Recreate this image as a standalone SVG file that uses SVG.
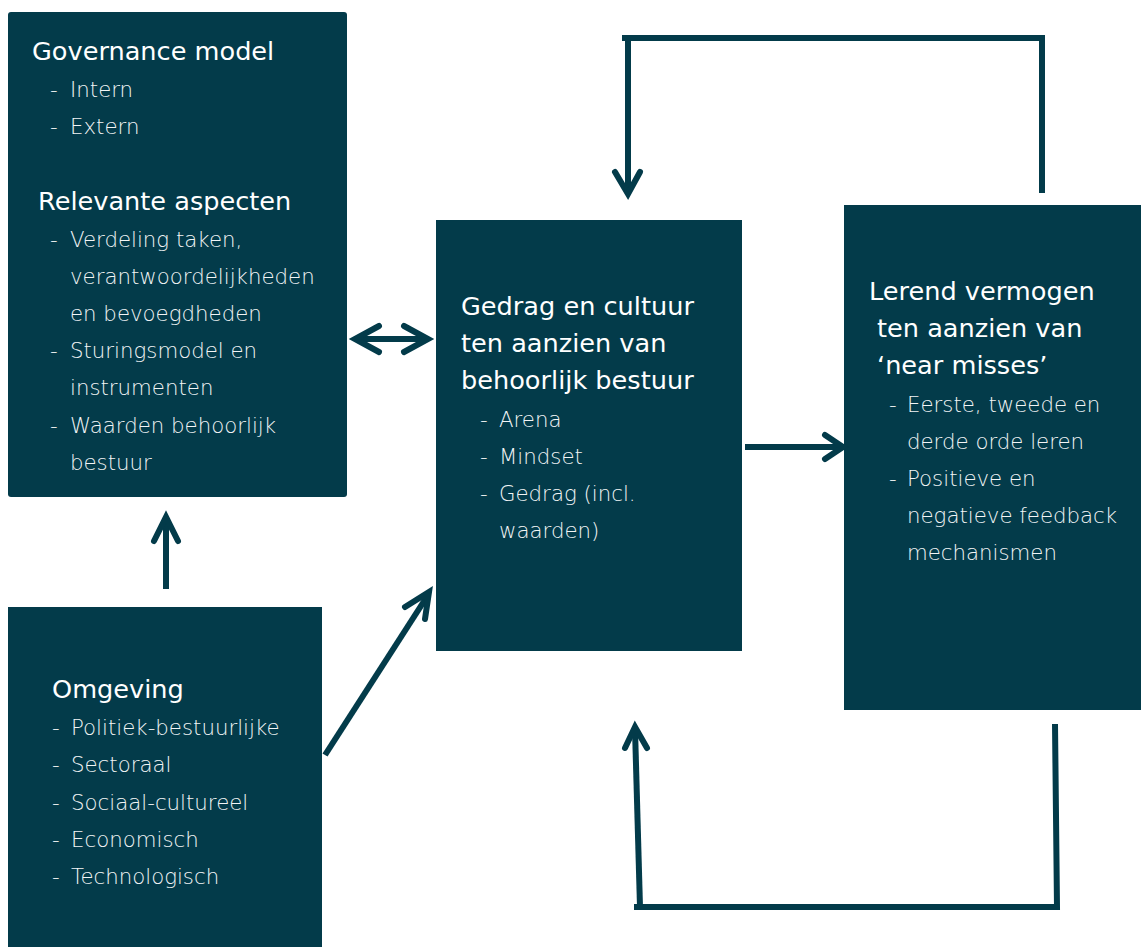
<svg xmlns="http://www.w3.org/2000/svg" width="1141" height="947" viewBox="0 0 1141 947">
<style>
.box{fill:#033b4a}
.t{font-family:"DejaVu Sans","Open Sans",sans-serif}
.h{font-size:25.6px;fill:#ffffff}
.b{font-size:21.3px;font-weight:200;fill:#f2f5f6}
.ln{fill:none;stroke:#033b4a;stroke-width:6}
.hd{fill:none;stroke:#033b4a;stroke-width:6;stroke-linecap:round;stroke-linejoin:miter}
</style>
<rect width="1141" height="947" fill="#ffffff"/>
<g id="governance">
<rect class="box" x="8" y="12" width="339" height="485" rx="3"/>
<text class="t h" x="32" y="60">Governance model</text>
<text class="t b" x="50" y="97">-</text><text class="t b" x="70" y="97">Intern</text>
<text class="t b" x="50" y="134">-</text><text class="t b" x="70" y="134">Extern</text>
<text class="t h" x="38" y="210">Relevante aspecten</text>
<text class="t b" x="50" y="247">-</text><text class="t b" x="70" y="247">Verdeling taken,</text>
<text class="t b" x="70" y="284">verantwoordelijkheden</text>
<text class="t b" x="70" y="321">en bevoegdheden</text>
<text class="t b" x="50" y="358">-</text><text class="t b" x="70" y="358">Sturingsmodel en</text>
<text class="t b" x="70" y="395">instrumenten</text>
<text class="t b" x="50" y="433">-</text><text class="t b" x="70" y="433">Waarden behoorlijk</text>
<text class="t b" x="70" y="470">bestuur</text>
</g>
<g id="gedrag">
<rect class="box" x="436" y="220" width="306" height="431"/>
<text class="t h" x="461" y="315">Gedrag en cultuur</text>
<text class="t h" x="461" y="352">ten aanzien van</text>
<text class="t h" x="461" y="389">behoorlijk bestuur</text>
<text class="t b" x="480" y="427">-</text><text class="t b" x="499" y="427">Arena</text>
<text class="t b" x="480" y="464">-</text><text class="t b" x="499" y="464">Mindset</text>
<text class="t b" x="480" y="501">-</text><text class="t b" x="499" y="501">Gedrag (incl.</text>
<text class="t b" x="499" y="538">waarden)</text>
</g>
<g id="lerend">
<rect class="box" x="844" y="205" width="297" height="505"/>
<text class="t h" x="869" y="300">Lerend vermogen</text>
<text class="t h" x="877" y="337">ten aanzien van</text>
<text class="t h" x="877" y="374">‘near misses’</text>
<text class="t b" x="889" y="412">-</text><text class="t b" x="907" y="412">Eerste, tweede en</text>
<text class="t b" x="907" y="449">derde orde leren</text>
<text class="t b" x="889" y="486">-</text><text class="t b" x="907" y="486">Positieve en</text>
<text class="t b" x="907" y="523">negatieve feedback</text>
<text class="t b" x="907" y="560">mechanismen</text>
</g>
<g id="omgeving">
<rect class="box" x="8" y="607" width="314" height="340"/>
<text class="t h" x="52" y="698">Omgeving</text>
<text class="t b" x="52" y="735">-</text><text class="t b" x="71" y="735">Politiek-bestuurlijke</text>
<text class="t b" x="52" y="772">-</text><text class="t b" x="71" y="772">Sectoraal</text>
<text class="t b" x="52" y="810">-</text><text class="t b" x="71" y="810">Sociaal-cultureel</text>
<text class="t b" x="52" y="847">-</text><text class="t b" x="71" y="847">Economisch</text>
<text class="t b" x="52" y="884">-</text><text class="t b" x="71" y="884">Technologisch</text>
</g>
<g id="connectors">
<line class="ln" x1="356" y1="339" x2="427" y2="339"/>
<polyline class="hd" points="379,326 355,339 379,352"/>
<polyline class="hd" points="404,326 428,339 404,352"/>
<polyline class="ln" points="1042,193 1042,38 622,38"/>
<line class="ln" x1="628" y1="38" x2="628" y2="192"/>
<polyline class="hd" points="615,172 628,194 640,172"/>
<polyline class="ln" points="1055,724 1057,907 634,907"/>
<line class="ln" x1="640" y1="907" x2="635" y2="729"/>
<polyline class="hd" points="625,748 635,727 647,748"/>
<line class="ln" x1="745" y1="447" x2="841" y2="447"/>
<polyline class="hd" points="825,435 843,447 825,459"/>
<line class="ln" x1="166" y1="589" x2="166" y2="519"/>
<polyline class="hd" points="154,541 166,517 178,541"/>
<line class="ln" x1="325" y1="755" x2="428" y2="595"/>
<polyline class="hd" points="405,607 429,592 425,619"/>
</g>
</svg>
